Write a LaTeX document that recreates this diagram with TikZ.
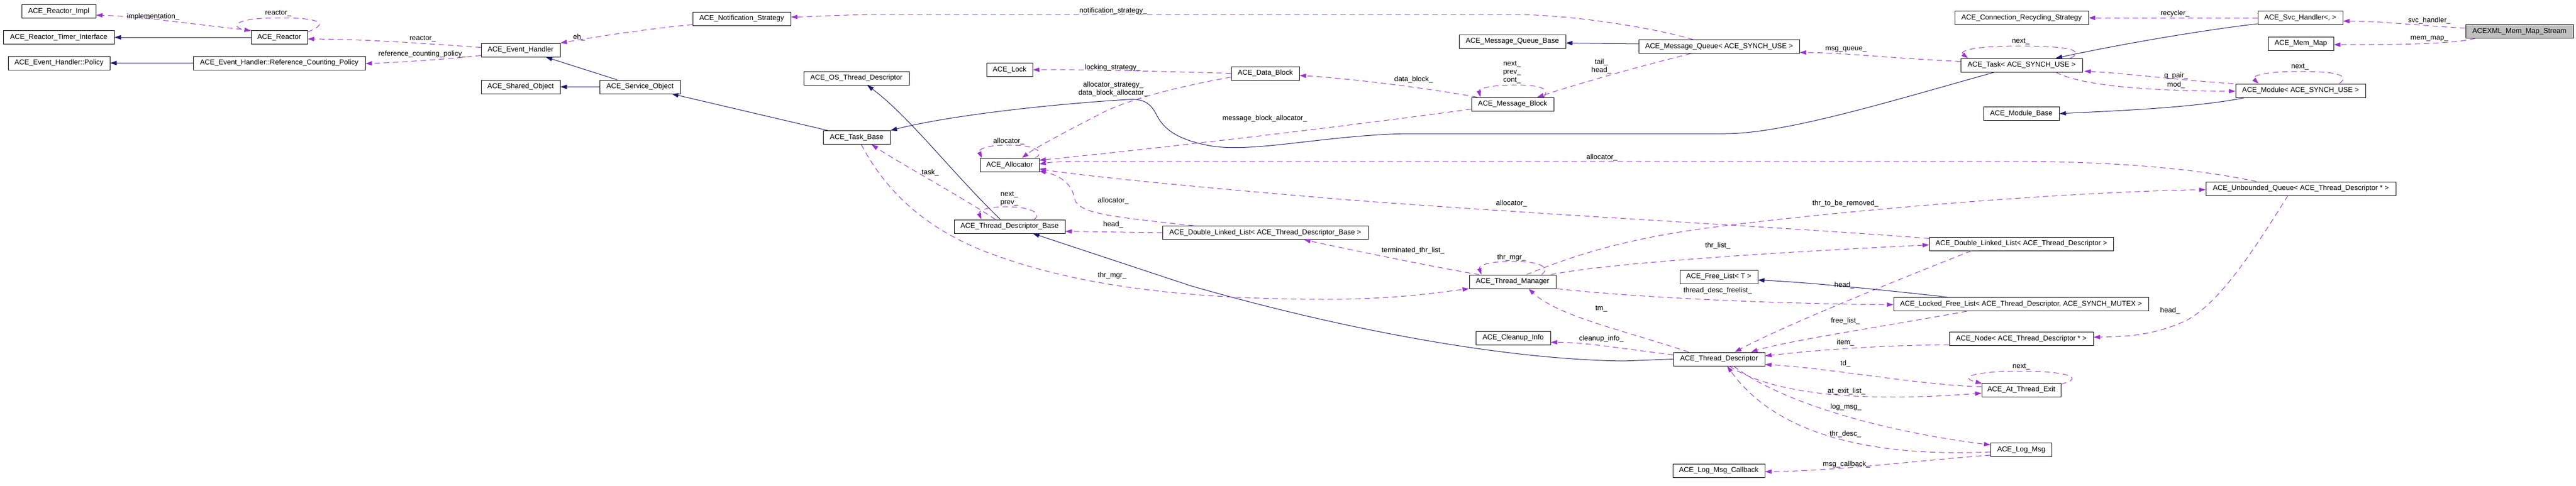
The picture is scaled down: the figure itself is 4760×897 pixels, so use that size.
\documentclass[tikz,border=0pt]{standalone}
\usepackage{fontspec}
\setmainfont{Liberation Sans}
\usetikzlibrary{arrows.meta,calc}
\definecolor{navyc}{RGB}{25,25,112}
\definecolor{depc}{RGB}{154,50,205}
\definecolor{rootc}{RGB}{191,191,191}
\newcommand{\dxfont}{\fontsize{13.2}{15}\selectfont}
\begin{document}
\begin{tikzpicture}[x=1pt,y=-1pt,
  cls/.style={draw=black,line width=1pt,rectangle,inner sep=0pt,minimum height=25pt,font=\dxfont},
  rootcls/.style={cls,fill=rootc},
  inh/.style={draw=navyc,line width=1pt,-{Triangle[length=12pt,width=8pt]}},
  dep/.style={draw=depc,line width=1pt,dash pattern=on 10pt off 7pt,-{Triangle[length=12pt,width=8pt]}},
  lbl/.style={font=\dxfont,inner sep=0pt,align=center}]
\useasboundingbox (0,0) rectangle (4760,897);
% ---------------- classes ----------------
\node[cls,minimum width=137pt] (rimpl) at (108.5,21) {ACE\_Reactor\_Impl};
\node[cls,minimum width=205pt] (rti) at (108.5,69) {ACE\_Reactor\_Timer\_Interface};
\node[cls,minimum width=104pt] (reactor) at (516,69) {ACE\_Reactor};
\node[cls,minimum width=188pt] (policy) at (109,116.5) {ACE\_Event\_Handler::Policy};
\node[cls,minimum width=318pt] (rcp) at (516,116.5) {ACE\_Event\_Handler::Reference\_Counting\_Policy};
\node[cls,minimum width=146pt] (eh) at (962,92.5) {ACE\_Event\_Handler};
\node[cls,minimum width=146pt] (so) at (962,160.5) {ACE\_Shared\_Object};
\node[cls,minimum width=149pt] (svc) at (1182.5,160.5) {ACE\_Service\_Object};
\node[cls,minimum width=181pt] (ns) at (1370.5,34.5) {ACE\_Notification\_Strategy};
\node[cls,minimum width=195pt] (ostd) at (1582.5,144.5) {ACE\_OS\_Thread\_Descriptor};
\node[cls,minimum width=124pt] (tb) at (1583,254) {ACE\_Task\_Base};
\node[cls,minimum width=205pt] (tdb) at (1865.5,418.5) {ACE\_Thread\_Descriptor\_Base};
\node[cls,minimum width=109pt] (alloc) at (1865.5,305) {ACE\_Allocator};
\node[cls,minimum width=85pt] (lock) at (1865.5,129) {ACE\_Lock};
\node[cls,minimum width=126pt] (db) at (2338,135.5) {ACE\_Data\_Block};
\node[cls,minimum width=380pt] (dlltdb) at (2338,430) {ACE\_Double\_Linked\_List< ACE\_Thread\_Descriptor\_Base >};
\node[cls,minimum width=197pt] (mqb) at (2794.5,76.5) {ACE\_Message\_Queue\_Base};
\node[cls,minimum width=152pt] (mb) at (2795,192.5) {ACE\_Message\_Block};
\node[cls,minimum width=297pt] (mq) at (3176.5,86) {ACE\_Message\_Queue< ACE\_SYNCH\_USE >};
\node[cls,minimum width=160pt] (tm) at (2795,520.5) {ACE\_Thread\_Manager};
\node[cls,minimum width=138pt] (ci) at (2796,624.5) {ACE\_Cleanup\_Info};
\node[cls,minimum width=225pt] (task) at (3735.5,120.5) {ACE\_Task< ACE\_SYNCH\_USE >};
\node[cls,minimum width=247pt] (crs) at (3735.5,33) {ACE\_Connection\_Recycling\_Strategy};
\node[cls,minimum width=340pt] (dlltd) at (3735,450.5) {ACE\_Double\_Linked\_List< ACE\_Thread\_Descriptor >};
\node[cls,minimum width=144pt] (fl) at (3176,511.5) {ACE\_Free\_List< T >};
\node[cls,minimum width=471pt] (lfl) at (3734.5,562) {ACE\_Locked\_Free\_List< ACE\_Thread\_Descriptor, ACE\_SYNCH\_MUTEX >};
\node[cls,minimum width=266pt] (tnode) at (3735,626) {ACE\_Node< ACE\_Thread\_Descriptor * >};
\node[cls,minimum width=169pt] (td) at (3176.5,663.5) {ACE\_Thread\_Descriptor};
\node[cls,minimum width=170pt] (lmc) at (3176,869.5) {ACE\_Log\_Msg\_Callback};
\node[cls,minimum width=146pt] (ate) at (3735,720.5) {ACE\_At\_Thread\_Exit};
\node[cls,minimum width=113pt] (lm) at (3735,831) {ACE\_Log\_Msg};
\node[cls,minimum width=157pt] (svch) at (4250.5,33) {ACE\_Svc\_Handler<, >};
\node[rootcls,minimum width=199pt] (acexml) at (4655.5,58) {ACEXML\_Mem\_Map\_Stream};
\node[cls,minimum width=121pt] (mm) at (4251.5,80.5) {ACE\_Mem\_Map};
\node[cls,minimum width=240pt] (mod) at (4251,167.5) {ACE\_Module< ACE\_SYNCH\_USE >};
\node[cls,minimum width=140pt] (mbase) at (3735,210) {ACE\_Module\_Base};
\node[cls,minimum width=351pt] (uq) at (4251.5,348.5) {ACE\_Unbounded\_Queue< ACE\_Thread\_Descriptor * >};
% ---------------- inheritance ----------------
\draw[inh] (reactor.west) -- (rti.east);
\draw[inh] (rcp.west) -- (policy.east);
\draw[inh] ($(svc.north west)+(33,0)$) -- ($(eh.south east)+(-27,0)$);
\draw[inh] (svc.west) -- (so.east);
\draw[inh] ($(tb.north west)+(9,0)$) -- ($(svc.south east)+(-16,0)$);
\draw[inh] ($(tdb.north west)+(86,0)$) .. controls (1760,320) and (1680,215) .. ($(ostd.south west)+(118,0)$);
\draw[inh] ($(task.south west)+(63,0)$) .. controls (3500,185) and (3300,247) .. (3188,247) -- (2598,247)
   .. controls (2450,250) and (2320,282) .. (2240,270) .. controls (2170,258) and (2148,235) .. (2136,210)
   .. controls (2124,188) and (2110,182) .. (2083,184) .. controls (1950,192) and (1760,212) .. (tb.north east);
\draw[inh] (td.west) -- (3000,667) .. controls (2760,664) and (2450,600) .. (2200,528) -- ($(tdb.south west)+(146,0)$);
\draw[inh] ($(mq.west)+(0,-5)$) -- ($(mqb.east)+(0,3)$);
\draw[inh] ($(svch.south west)+(0,-2)$) .. controls (4100,52) and (3950,75) .. ($(task.north west)+(176,0)$);
\draw[inh] ($(mod.south west)+(18,0)$) .. controls (4050,200) and (3900,205) .. (mbase.east);
\draw[inh] ($(lfl.north west)+(100,0)$) .. controls (3500,538) and (3350,522) .. ($(fl.east)+(0,6)$);
% ---------------- usage ----------------
\draw[dep] (reactor.north west) .. controls (380,48) and (260,30) .. ($(rimpl.east)+(0,7)$);
\node[lbl] (l1) at (283,31) {implementation\_};
\draw[dep] ($(reactor.north east)+(0,3)$) .. controls (605,45) and (600,33) .. (516,33) .. controls (430,33) and (425,50) .. ($(reactor.north west)+(0,1)$);
\node[lbl] (l2) at (514,25) {reactor\_};
\draw[dep] ($(eh.west)+(0,-5)$) .. controls (800,82) and (700,73) .. ($(reactor.east)+(0,3)$);
\node[lbl] (l3) at (781,72) {reactor\_};
\draw[dep] ($(eh.south west)+(0,-3)$) .. controls (820,110) and (740,115) .. ($(rcp.east)+(0,1)$);
\node[lbl] (l4) at (780,100) {reference\_counting\_policy\_};
\draw[dep] ($(ns.south west)+(0,-2)$) .. controls (1180,55) and (1090,70) .. (eh.north east);
\node[lbl] (l5) at (1070,69) {eh\_};
\draw[dep] ($(mq.north west)+(101,0)$) .. controls (3050,50) and (2900,27) .. (2800,27) -- (1640,27) .. controls (1550,27) and (1500,31) .. ($(ns.east)+(0,-3)$);
\node[lbl] (l6) at (2057,20) {notification\_strategy\_};
\draw[dep] (db.west) .. controls (2150,132) and (2000,128) .. (lock.east);
\node[lbl] (l7) at (2056,125) {locking\_strategy\_};
\draw[dep] ($(db.south west)+(0,-6)$) .. controls (2150,165) and (2070,190) .. (2030,212) .. controls (1960,248) and (1910,275) .. ($(alloc.north west)+(78,0)$);
\node[lbl] (l8) at (2057,164.5) {allocator\_strategy\_\\data\_block\_allocator\_};
\draw[dep] ($(alloc.north east)+(-8,0)$) .. controls (1932,282) and (1915,268) .. (1865,268) .. controls (1815,268) and (1808,278) .. ($(alloc.north west)+(4,0)$);
\node[lbl] (l9) at (1864,261) {allocator\_};
\draw[dep] ($(mb.west)+(0,9)$) .. controls (2550,225) and (2200,268) .. ($(alloc.east)+(0,-9)$);
\node[lbl] (l10) at (2337,219) {message\_block\_allocator\_};
\draw[dep] ($(uq.north west)+(94,0)$) .. controls (4050,310) and (3900,298) .. (3700,298) -- (2000,298) .. controls (1960,298) and (1940,300) .. ($(alloc.east)+(0,-2)$);
\node[lbl] (l11) at (2960,291) {allocator\_};
\draw[dep] ($(dlltd.west)+(0,-10)$) .. controls (3300,420) and (2900,400) .. (2500,370) .. controls (2200,345) and (2000,325) .. ($(alloc.east)+(0,7)$);
\node[lbl] (l12) at (2793,376) {allocator\_};
\draw[dep] ($(dlltdb.north west)+(58,0)$) .. controls (2050,400) and (1990,395) .. (1985,365) .. controls (1980,335) and (1950,322) .. ($(alloc.east)+(0,11)$);
\node[lbl] (l13) at (2057,371) {allocator\_};
\draw[dep] (dlltdb.west) -- ($(tdb.east)+(0,9)$);
\node[lbl] (l14) at (2057,415) {head\_};
\draw[dep] ($(tdb.north west)+(148,0)$) .. controls (1927,395) and (1905,382) .. (1860,382) .. controls (1815,382) and (1808,392) .. ($(tdb.north west)+(51,0)$);
\node[lbl] (l15) at (1865,367.5) {next\_\\prev\_};
\draw[dep] ($(tdb.north west)+(77,0)$) .. controls (1770,360) and (1660,300) .. ($(tb.south west)+(90,0)$);
\node[lbl] (l16) at (1719,319) {task\_};
\draw[dep] ($(tb.south west)+(71,0)$) .. controls (1640,360) and (1720,430) .. (1840,472) .. controls (2000,530) and (2200,553) .. (2450,553) .. controls (2580,553) and (2660,540) .. (tm.south west);
\node[lbl] (l17) at (2055,509) {thr\_mgr\_};
\draw[dep] ($(tm.north west)+(19,0)$) .. controls (2620,488) and (2480,458) .. ($(dlltdb.south west)+(262,0)$);
\node[lbl] (l18) at (2611,463) {terminated\_thr\_list\_};
\draw[dep] ($(tm.north west)+(134,0)$) .. controls (2864,495) and (2850,483) .. (2795,483) .. controls (2745,483) and (2732,492) .. ($(tm.north west)+(23,0)$);
\node[lbl] (l19) at (2793,476) {thr\_mgr\_};
\draw[dep] ($(tm.north east)+(-10,0)$) .. controls (2950,490) and (3200,470) .. ($(dlltd.west)+(0,2)$);
\node[lbl] (l20) at (3174,454) {thr\_list\_};
\draw[dep] ($(tm.north west)+(106,0)$) .. controls (2900,475) and (3000,440) .. (3180,418) .. controls (3400,390) and (3800,355) .. ($(uq.west)+(0,2)$);
\node[lbl] (l21) at (3410,376) {thr\_to\_be\_removed\_};
\draw[dep] ($(tm.south east)+(2,0)$) .. controls (2980,545) and (3200,560) .. ($(lfl.west)+(0,1)$);
\node[lbl] (l22) at (3174,537) {thread\_desc\_freelist\_};
\draw[dep] ($(td.north west)+(29,0)$) .. controls (3000,610) and (2880,585) .. ($(tm.south west)+(110,0)$);
\node[lbl] (l23) at (2959,571) {tm\_};
\draw[dep] ($(td.west)+(0,-8)$) .. controls (3000,645) and (2930,632) .. ($(ci.east)+(0,8)$);
\node[lbl] (l24) at (2959,626) {cleanup\_info\_};
\draw[dep] ($(task.west)+(0,-7)$) .. controls (3500,108) and (3400,97) .. ($(mq.east)+(0,11)$);
\node[lbl] (l25) at (3411,91) {msg\_queue\_};
\draw[dep] ($(mq.south west)+(97,0)$) .. controls (3000,130) and (2900,160) .. ($(mb.north west)+(122,0)$);
\node[lbl] (l26) at (2959,123) {tail\_\\head\_};
\draw[dep] ($(mb.north west)+(134,0)$) .. controls (2864,165) and (2850,157) .. (2800,157) .. controls (2750,157) and (2732,165) .. ($(mb.north west)+(17,0)$);
\node[lbl] (l27) at (2794,134) {next\_\\prev\_\\cont\_};
\draw[dep] ($(mb.north west)+(11,0)$) .. controls (2650,165) and (2500,145) .. ($(db.east)+(0,4)$);
\node[lbl] (l28) at (2612,147) {data\_block\_};
\draw[dep] (svch.west) -- (crs.east);
\node[lbl] (l29) at (4019,25) {recycler\_};
\draw[dep] ($(acexml.west)+(0,-6)$) .. controls (4480,48) and (4400,39) .. ($(svch.east)+(0,6)$);
\node[lbl] (l30) at (4489,38) {svc\_handler\_};
\draw[dep] ($(acexml.south west)+(18,0)$) .. controls (4540,80) and (4450,83) .. ($(mm.east)+(0,2)$);
\node[lbl] (l31) at (4489,71) {mem\_map\_};
\draw[dep] ($(task.north east)+(-23,0)$) .. controls (3852,95) and (3830,85) .. (3735,85) .. controls (3640,85) and (3620,95) .. ($(task.north west)+(14,0)$);
\node[lbl] (l32) at (3734,77) {next\_};
\draw[dep] ($(mod.north west)+(-4,0)$) .. controls (4050,150) and (3920,135) .. ($(task.south east)+(3,-2)$);
\node[lbl] (l33) at (4021,140) {q\_pair\_};
\draw[dep] ($(task.south west)+(176,0)$) .. controls (3850,160) and (3980,168) .. ($(mod.west)+(0,1)$);
\node[lbl] (l34) at (4021,157) {mod\_};
\draw[dep] ($(mod.north east)+(-49,0)$) .. controls (4340,142) and (4330,132) .. (4250,132) .. controls (4175,132) and (4160,142) .. ($(mod.north west)+(43,0)$);
\node[lbl] (l35) at (4250,124) {next\_};
\draw[dep] ($(uq.south west)+(152,0)$) .. controls (4160,470) and (4100,560) .. (4040,592) .. controls (3980,620) and (3930,622) .. ($(tnode.east)+(0,-3)$);
\node[lbl] (l36) at (4010,574) {head\_};
\draw[dep] ($(dlltd.south west)+(78,0)$) .. controls (3500,520) and (3300,600) .. ($(td.north west)+(114,0)$);
\node[lbl] (l37) at (3408,527) {head\_};
\draw[dep] ($(lfl.south west)+(136,0)$) .. controls (3500,600) and (3300,630) .. ($(td.north west)+(144,0)$);
\node[lbl] (l38) at (3410,593) {free\_list\_};
\draw[dep] ($(tnode.south west)+(0,-2)$) .. controls (3450,638) and (3330,650) .. ($(td.east)+(0,-6)$);
\node[lbl] (l39) at (3410,633) {item\_};
\draw[dep] ($(ate.west)+(0,-6)$) .. controls (3550,712) and (3380,680) .. ($(td.east)+(0,10)$);
\node[lbl] (l40) at (3410,672) {td\_};
\draw[dep] ($(ate.north east)+(0,2)$) .. controls (3850,700) and (3830,686) .. (3735,686) .. controls (3640,686) and (3620,698) .. ($(ate.north west)+(1,1)$);
\node[lbl] (l41) at (3735,678) {next\_};
\draw[dep] ($(td.south west)+(104,0)$) .. controls (3270,725) and (3420,745) .. ($(ate.west)+(0,6)$);
\node[lbl] (l42) at (3412,723) {at\_exit\_list\_};
\draw[dep] ($(td.south west)+(112,0)$) .. controls (3300,750) and (3500,800) .. ($(lm.west)+(0,-9)$);
\node[lbl] (l43) at (3411,752) {log\_msg\_};
\draw[dep] ($(lm.west)+(0,4)$) .. controls (3450,845) and (3280,800) .. ($(td.south west)+(100,0)$);
\node[lbl] (l44) at (3410,802) {thr\_desc\_};
\draw[dep] ($(lm.south west)+(0,-3)$) .. controls (3550,850) and (3400,870) .. ($(lmc.east)+(0,2)$);
\node[lbl] (l45) at (3412,858) {msg\_callback\_};
\end{tikzpicture}
\end{document}
